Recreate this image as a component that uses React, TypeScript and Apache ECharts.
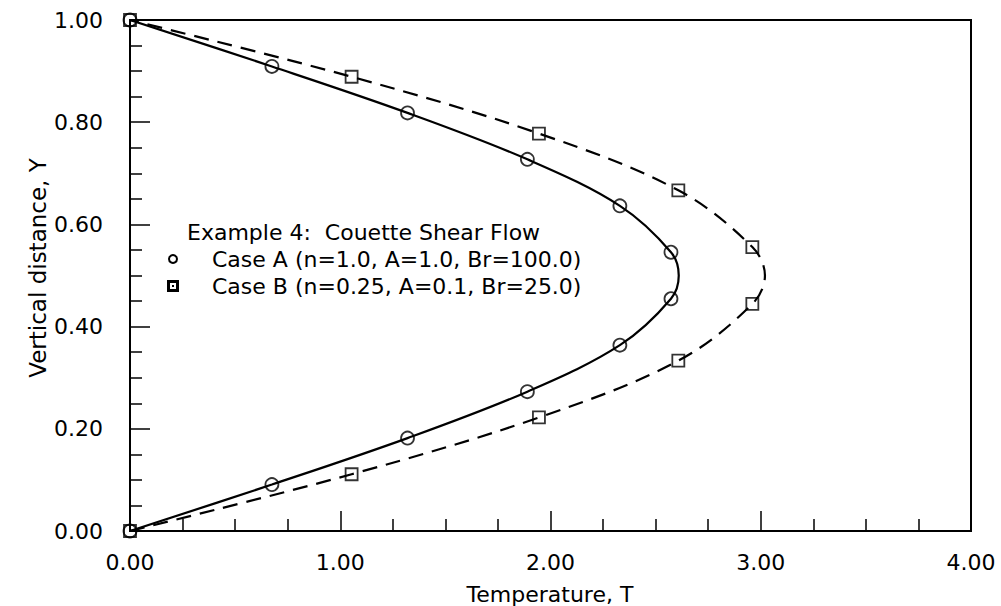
import React, { useEffect, useRef } from "react";
import * as echarts from "echarts";

// Case A markers (circles)
const caseA_T = [0, 0.675, 1.32, 1.89, 2.33, 2.573, 2.573, 2.33, 1.89, 1.32, 0.675, 0];
const caseA_Y = [0, 0.0909, 0.1818, 0.2727, 0.3636, 0.4545, 0.5455, 0.6364, 0.7273, 0.8182, 0.9091, 1.0];
// Case B markers (squares)
const caseB_T = [0, 1.054, 1.945, 2.608, 2.96, 2.96, 2.608, 1.945, 1.054, 0];
const caseB_Y = [0, 0.1111, 0.2222, 0.3333, 0.4444, 0.5556, 0.6667, 0.7778, 0.8889, 1.0];
// Curves (marker positions plus the apex)
const curveA_T = [0, 0.675, 1.32, 1.89, 2.33, 2.573, 2.61, 2.573, 2.33, 1.89, 1.32, 0.675, 0];
const curveA_Y = [0, 0.0909, 0.1818, 0.2727, 0.3636, 0.4545, 0.5, 0.5455, 0.6364, 0.7273, 0.8182, 0.9091, 1.0];
const curveB_T = [0, 1.054, 1.945, 2.608, 2.96, 3.02, 2.96, 2.608, 1.945, 1.054, 0];
const curveB_Y = [0, 0.1111, 0.2222, 0.3333, 0.4444, 0.5, 0.5556, 0.6667, 0.7778, 0.8889, 1.0];

const legendTitle = "Example 4:  Couette Shear Flow";
const legendA = "Case A (n=1.0, A=1.0, Br=100.0)";
const legendB = "Case B (n=0.25, A=0.1, Br=25.0)";
const xTitle = "Temperature, T";
const yTitle = "Vertical distance, Y";

const FONT = "DejaVu Sans";

const zip = (a: number[], b: number[]) => a.map((v, i) => [v, b[i]]);

export default function App() {
  const ref = useRef<HTMLDivElement>(null);
  useEffect(() => {
    if (!ref.current) return;
    const chart = echarts.init(ref.current, null, { renderer: "svg" });
    chart.setOption({
      animation: false,
      backgroundColor: "#fff",
      grid: {
        left: 130,
        top: 20,
        right: 30,
        bottom: 75,
        show: true,
        borderColor: "#000",
        borderWidth: 2,
      },
      xAxis: {
        type: "value",
        min: 0,
        max: 4,
        interval: 1,
        axisLine: { lineStyle: { color: "#000", width: 2 } },
        axisTick: { inside: true, length: 20, lineStyle: { color: "#000", width: 1.5 } },
        minorTick: { show: true, splitNumber: 4, length: 12, lineStyle: { color: "#000", width: 1.5 } },
        splitLine: { show: false },
        axisLabel: {
          margin: 20,
          color: "#000",
          fontFamily: FONT,
          fontSize: 22,
          formatter: (v: number) => v.toFixed(2),
        },
      },
      yAxis: {
        type: "value",
        min: 0,
        max: 1,
        interval: 0.2,
        axisLine: { lineStyle: { color: "#000", width: 2 } },
        axisTick: { inside: true, length: 20, lineStyle: { color: "#000", width: 1.5 } },
        minorTick: { show: true, splitNumber: 4, length: 12, lineStyle: { color: "#000", width: 1.5 } },
        splitLine: { show: false },
        axisLabel: {
          margin: 27,
          color: "#000",
          fontFamily: FONT,
          fontSize: 22,
          formatter: (v: number) => v.toFixed(2),
        },
      },
      graphic: [
        {
          type: "text",
          x: 38,
          y: 268,
          rotation: Math.PI / 2,
          style: {
            text: yTitle,
            fontFamily: FONT,
            fontSize: 23,
            fill: "#000",
            textAlign: "center",
            textVerticalAlign: "middle",
          },
        },
        {
          type: "text",
          x: 550,
          y: 594,
          style: {
            text: xTitle,
            fontFamily: FONT,
            fontSize: 22,
            fill: "#000",
            textAlign: "center",
            textVerticalAlign: "middle",
          },
        },
        {
          type: "text",
          x: 187,
          y: 232,
          style: { text: legendTitle, fontFamily: FONT, fontSize: 22, fill: "#000", textVerticalAlign: "middle" },
        },
        {
          type: "text",
          x: 212,
          y: 259,
          style: { text: legendA, fontFamily: FONT, fontSize: 22, fill: "#000", textVerticalAlign: "middle" },
        },
        {
          type: "text",
          x: 212,
          y: 286,
          style: { text: legendB, fontFamily: FONT, fontSize: 22, fill: "#000", textVerticalAlign: "middle" },
        },
        {
          type: "circle",
          shape: { cx: 173, cy: 259, r: 4 },
          style: { fill: "none", stroke: "#000", lineWidth: 2 },
        },
        {
          type: "rect",
          shape: { x: 168.5, y: 281.5, width: 9, height: 9 },
          style: { fill: "none", stroke: "#000", lineWidth: 3 },
        },
        {
          type: "rect",
          shape: { x: 172, y: 285, width: 2, height: 2 },
          style: { fill: "#000" },
        },
      ],
      series: [
        {
          type: "line",
          data: zip(curveA_T, curveA_Y),
          smooth: 0.35,
          symbol: "none",
          lineStyle: { color: "#000", width: 2.2, type: "solid" },
          z: 2,
        },
        {
          type: "line",
          data: zip(curveB_T, curveB_Y),
          smooth: 0.35,
          symbol: "none",
          lineStyle: { color: "#000", width: 2.2, type: [15, 9] },
          z: 2,
        },
        {
          type: "scatter",
          data: zip(caseA_T, caseA_Y),
          symbol: "circle",
          symbolSize: 13,
          itemStyle: { color: "rgba(0,0,0,0)", borderColor: "#000", borderWidth: 1.8 },
          z: 3,
        },
        {
          type: "scatter",
          data: zip(caseB_T, caseB_Y),
          symbol: "rect",
          symbolSize: 12,
          itemStyle: { color: "rgba(0,0,0,0)", borderColor: "#000", borderWidth: 1.8 },
          z: 3,
        },
      ],
    });
    return () => chart.dispose();
  }, []);
  return (
    <div
      ref={ref}
      style={{ position: "fixed", left: 0, top: 0, width: 1001, height: 606 }}
    />
  );
}
